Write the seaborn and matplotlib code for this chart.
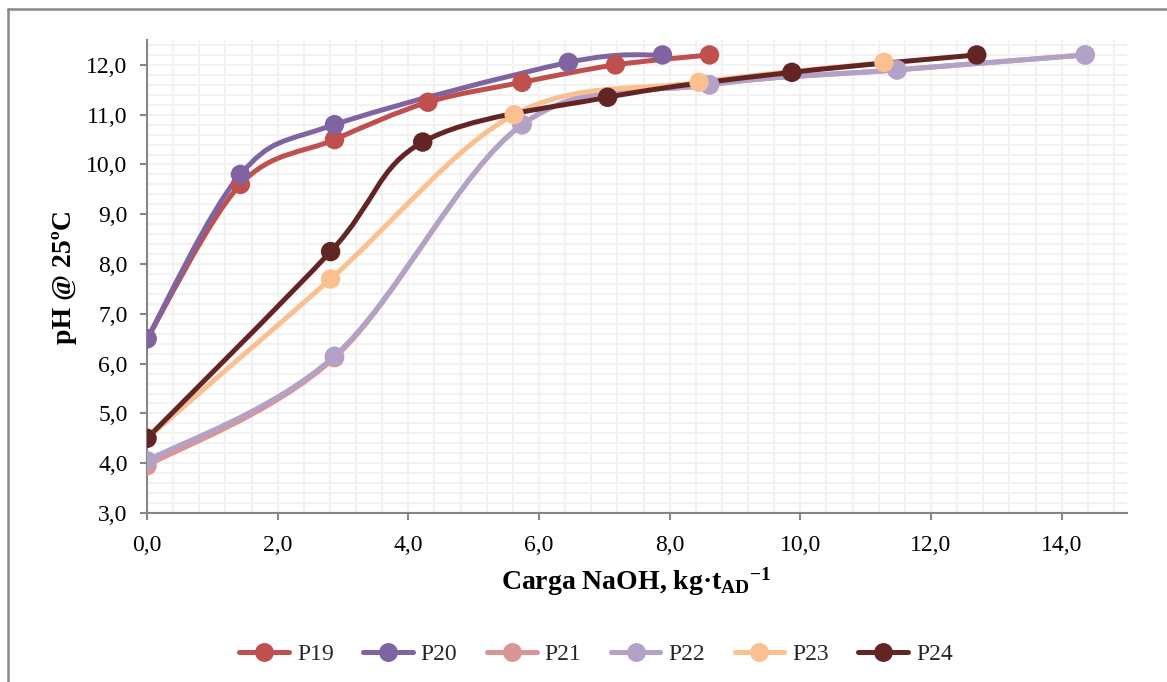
# pH vs NaOH load - titration curves P19..P24

import numpy as np
import matplotlib
matplotlib.use('Agg')
import matplotlib.pyplot as plt
import seaborn as sns
from matplotlib.path import Path
from matplotlib.patches import PathPatch
from matplotlib.lines import Line2D
from matplotlib.ticker import MultipleLocator, FuncFormatter

# Data
x_p19 = [0.0, 1.43, 2.87, 4.30, 5.74, 7.17, 8.61]
y_p19 = [6.5, 9.6, 10.5, 11.25, 11.65, 12.0, 12.2]

x_p20 = [0.0, 1.43, 2.87, 6.45, 7.89]
y_p20 = [6.5, 9.8, 10.8, 12.05, 12.2]

x_p21 = [0.0, 2.87, 5.74, 8.61, 11.48, 14.36]
y_p21 = [3.95, 6.12, 10.8, 11.6, 11.9, 12.2]

x_p22 = [0.0, 2.87, 5.74, 8.61, 11.48, 14.36]
y_p22 = [4.05, 6.15, 10.8, 11.6, 11.9, 12.2]

x_p23 = [0.0, 2.81, 5.62, 8.45, 11.28]
y_p23 = [4.5, 7.7, 11.0, 11.65, 12.05]

x_p24 = [0.0, 2.81, 4.22, 7.05, 9.87, 12.7]
y_p24 = [4.5, 8.25, 10.45, 11.35, 11.85, 12.2]

series = ['P19', 'P20', 'P21', 'P22', 'P23', 'P24']
xs = [x_p19, x_p20, x_p21, x_p22, x_p23, x_p24]
ys = [y_p19, y_p20, y_p21, y_p22, y_p23, y_p24]
colors = ['#C0504D', '#8064A2', '#D99694', '#B3A2C7', '#FAC090', '#632523']

sns.set_theme(style='white')
plt.rcParams['font.family'] = ['Liberation Serif', 'DejaVu Serif']
plt.rcParams['mathtext.fontset'] = 'custom'
plt.rcParams['mathtext.rm'] = 'Liberation Serif:bold'
plt.rcParams['mathtext.bf'] = 'Liberation Serif:bold'
plt.rcParams['mathtext.it'] = 'Liberation Serif:bold'


def smooth_path(x, y):
    # Excel-like smoothed line: cubic Bezier through the points (Catmull-Rom handles)
    p = np.column_stack([x, y]).astype(float)
    pts = np.vstack([p[0], p, p[-1]])
    verts = [tuple(p[0])]
    codes = [Path.MOVETO]
    for i in range(1, len(pts) - 2):
        p0, p1, p2, p3 = pts[i - 1], pts[i], pts[i + 1], pts[i + 2]
        c1 = p1 + (p2 - p0) / 6.0
        c2 = p2 - (p3 - p1) / 6.0
        verts += [tuple(c1), tuple(c2), tuple(p2)]
        codes += [Path.CURVE4] * 3
    return Path(verts, codes)


fig = plt.figure(figsize=(11.67, 6.82), dpi=100)
ax = fig.add_axes([147 / 1167, 1 - 513 / 682, 980 / 1167, 473 / 682])

lw = 3.6
ms = 14

for i, (name, x, y, c) in enumerate(zip(series, xs, ys, colors)):
    patch = PathPatch(smooth_path(x, y), facecolor='none', edgecolor=c, lw=lw,
                      capstyle='round', joinstyle='round', zorder=2 + i * 0.01)
    ax.add_patch(patch)
    sns.scatterplot(x=x, y=y, color=c, s=ms ** 2, edgecolor='none', ax=ax,
                    zorder=3 + i * 0.01, legend=False)

ax.set_xlim(0, 15)
ax.set_ylim(3, 12.5)
ax.xaxis.set_major_locator(MultipleLocator(2))
ax.xaxis.set_minor_locator(MultipleLocator(0.4))
ax.yaxis.set_major_locator(MultipleLocator(1))
ax.yaxis.set_minor_locator(MultipleLocator(0.2))
fmt = FuncFormatter(lambda v, pos: f'{v:.1f}'.replace('.', ','))
ax.xaxis.set_major_formatter(fmt)
ax.yaxis.set_major_formatter(fmt)
ax.set_xticks([0, 2, 4, 6, 8, 10, 12, 14])

ax.grid(which='both', color='#F2F2F2', lw=1.5)
ax.set_axisbelow(True)
for s in ['top', 'right']:
    ax.spines[s].set_visible(False)
for s in ['left', 'bottom']:
    ax.spines[s].set_color('#868686')
    ax.spines[s].set_linewidth(1.5)
ax.tick_params(which='major', direction='out', length=5, width=1.5, color='#868686',
               labelsize=17, labelcolor='black', left=True, bottom=True)
ax.tick_params(axis='y', pad=9)
ax.tick_params(axis='x', pad=11)
ax.tick_params(which='minor', length=0)

ax.set_ylabel('pH @ 25ºC', fontsize=20, fontweight='bold', color='black')
ax.yaxis.set_label_coords(-0.071, 0.5)
ax.set_xlabel(r'Carga NaOH, kg·t$_{\mathbf{AD}}{}^{\mathbf{-1}}$', fontsize=20,
              fontweight='bold', color='black')
ax.xaxis.set_label_coords(0.499, -0.112)

handles = [Line2D([0], [0], color=c, lw=lw, marker='o', markersize=ms * 0.9,
                  markeredgecolor=c) for c in colors]
fig.legend(handles, series, loc='center', bbox_to_anchor=(596 / 1167, 1 - 654 / 682),
           ncol=6, frameon=False, fontsize=17, handlelength=2.1, handletextpad=0.34,
           columnspacing=1.25)

# chart frame (only top and left edges visible in the original)
fig.add_artist(Line2D([8 / 1167, 8 / 1167], [0, 1 - 9 / 682], transform=fig.transFigure,
                      color='#888888', lw=1.8))
fig.add_artist(Line2D([8 / 1167, 1], [1 - 9 / 682, 1 - 9 / 682], transform=fig.transFigure,
                      color='#888888', lw=1.8))

fig.savefig('out.png', dpi=100)
